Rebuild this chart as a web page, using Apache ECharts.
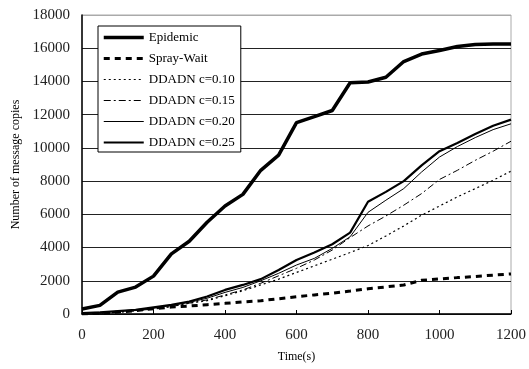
<!DOCTYPE html>
<html>
<head>
<meta charset="utf-8">
<script src="https://cdn.jsdelivr.net/npm/echarts@6/dist/echarts.min.js"></script>
<style>
  html, body { margin: 0; padding: 0; background: #fff; }
  #main { width: 529px; height: 369px; }
</style>
</head>
<body>
<div id="main"></div>
<script>
// time axis (seconds)
const times = [0, 50, 100, 150, 200, 250, 300, 350, 400, 450, 500, 550, 600,
               650, 700, 750, 800, 850, 900, 950, 1000, 1050, 1100, 1150, 1200]

// number of message copies per scheme
const epidemic = [300, 520, 1320, 1620, 2280, 3620, 4380, 5520, 6500, 7200, 8650, 9560, 11520,
                  11880, 12250, 13920, 13970, 14250, 15200, 15650, 15860, 16100, 16220, 16260, 16260]
const sprayWait = [0, 50, 120, 200, 320, 420, 480, 560, 640, 730, 800, 920, 1040,
                   1150, 1250, 1380, 1520, 1630, 1750, 2030, 2110, 2190, 2260, 2340, 2410]
const ddadn10 = [0, 50, 100, 200, 300, 450, 650, 800, 1100, 1400, 1750, 2100, 2500,
                 2900, 3300, 3700, 4120, 4700, 5300, 5950, 6500, 7050, 7550, 8050, 8600]
const ddadn15 = [0, 50, 100, 200, 300, 450, 650, 850, 1150, 1450, 1850, 2300, 2750,
                 3250, 3850, 4600, 5300, 5900, 6550, 7250, 8100, 8650, 9250, 9800, 10400]
const ddadn20 = [50, 80, 150, 220, 350, 520, 700, 950, 1300, 1600, 2000, 2450, 2950,
                 3350, 3950, 4650, 6120, 6850, 7550, 8550, 9450, 10080, 10620, 11100, 11450]
const ddadn25 = [60, 100, 180, 250, 400, 550, 750, 1050, 1450, 1750, 2100, 2650, 3250,
                 3700, 4200, 4900, 6760, 7350, 8000, 8950, 9800, 10300, 10830, 11330, 11700]

const names = ['Epidemic', 'Spray-Wait', 'DDADN c=0.10', 'DDADN c=0.15', 'DDADN c=0.20', 'DDADN c=0.25']

// line look per series: width and dash
const widths = [3.5, 3, 1.2, 1, 1, 2.2]
const dashes = ['solid', [6, 5], [2, 3], [7, 3, 2, 3], 'solid', 'solid']

const pairs = (vals) => times.map((t, i) => [t, vals[i]])

const mkLine = (i, vals, z) => ({
    name: names[i],
    type: 'line',
    data: pairs(vals),
    symbol: 'none',
    z: z,
    lineStyle: { color: '#000', width: widths[i], type: dashes[i] },
    itemStyle: { color: '#000' }
})

const serif = 'Liberation Serif'

let gridColors = ['#222', '#222', '#222', '#222', '#222', '#222', '#222', '#222', '#222', '#aaa']

let option = {
    animation: false,
    backgroundColor: '#fff',
    grid: {
        left: 82,
        right: 17,
        top: 15,
        bottom: 55,
        show: true,
        borderColor: '#aaa',
        borderWidth: 1
    },
    legend: {
        // legend width defaults to 2px, so give each item its series width
        data: names.map((n, i) => ({
            name: n,
            lineStyle: { color: '#000', width: widths[i], type: dashes[i] }
        })),
        orient: 'vertical',
        left: 98,
        top: 26,
        itemWidth: 40,
        itemHeight: 14,
        itemGap: 8,
        padding: [5, 6, 3, 4],
        borderColor: '#000',
        borderWidth: 1,
        backgroundColor: '#fff',
        itemStyle: { opacity: 0, borderWidth: 0 },
        textStyle: { fontFamily: serif, fontSize: 13, color: '#000' }
    },
    xAxis: {
        type: 'value',
        min: 0,
        max: 1200,
        interval: 200,
        name: 'Time(s)',
        nameLocation: 'middle',
        nameGap: 37,
        nameTextStyle: { fontFamily: serif, fontSize: 12, color: '#000' },
        axisLine: { show: true, lineStyle: { color: '#000', width: 1.5 } },
        axisTick: { show: true, inside: true, length: 4, lineStyle: { color: '#000' } },
        axisLabel: {
            fontFamily: serif, fontSize: 15, color: '#222', margin: 14,
            formatter: (v) => String(v)
        },
        splitLine: { show: false }
    },
    yAxis: {
        type: 'value',
        min: 0,
        max: 18000,
        interval: 2000,
        name: 'Number of message copies',
        nameLocation: 'middle',
        nameGap: 58,
        nameTextStyle: { fontFamily: serif, fontSize: 12, color: '#000' },
        axisLine: { show: true, lineStyle: { color: '#000', width: 1.5 } },
        axisTick: { show: false },
        axisLabel: {
            fontFamily: serif, fontSize: 15, color: '#222', margin: 12,
            formatter: (v) => String(v)
        },
        splitLine: { show: true, lineStyle: { color: gridColors, width: 1 } }
    },
    series: [
        mkLine(0, epidemic, 8),
        mkLine(1, sprayWait, 3),
        mkLine(2, ddadn10, 4),
        mkLine(3, ddadn15, 5),
        mkLine(4, ddadn20, 6),
        mkLine(5, ddadn25, 7)
    ]
}

let chart = echarts.init(document.getElementById('main'))
chart.setOption(option)
</script>
</body>
</html>
